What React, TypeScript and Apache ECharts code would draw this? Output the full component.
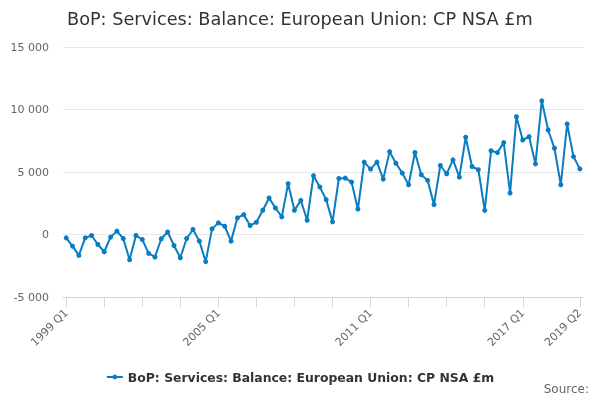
import React, { useEffect, useRef } from "react";
import * as echarts from "echarts";

const FONT = "DejaVu Sans";
const LINE_COLOR = "#0a7cc1";

// quarterly balance, 1999 Q1 .. 2019 Q2 (£m)
const balance = [
  -270, -930, -1670, -270, -80, -800, -1380, -210, 270, -320, -2020, -80, -400,
  -1510, -1800, -340, 200, -880, -1860, -320, 400, -530, -2170, 450, 930, 660,
  -530, 1330, 1590, 720, 980, 1940, 2920, 2120, 1410, 4060, 1940, 2730, 1140,
  4700, 3800, 2790, 1010, 4480, 4510, 4190, 2040, 5790, 5230, 5790, 4430, 6630,
  5700, 4910, 3980, 6560, 4780, 4330, 2390, 5520, 4860, 5970, 4590, 7780, 5440,
  5180, 1930, 6700, 6550, 7350, 3320, 9420, 7560, 7830, 5650, 10690, 8360, 6900,
  3980, 8840, 6230, 5250,
];

const startYear = 1999;
const quarters = ["Q1", "Q2", "Q3", "Q4"];
const categories: string[] = balance.map(
  (_, i) => `${startYear + Math.floor(i / 4)} ${quarters[i % 4]}`
);

const labelIndexes = [0, 24, 48, 72, 81];
const tickIndexes = [0, 6, 12, 18, 24, 30, 36, 42, 48, 54, 60, 66, 72, 81];
const yTicks = [-5000, 0, 5000, 10000, 15000];

const seriesName = "BoP: Services: Balance: European Union: CP NSA £m";

const fmt = (v: number) => {
  const s = Math.abs(v).toString().replace(/\B(?=(\d{3})+(?!\d))/g, " ");
  return v < 0 ? "-" + s : s;
};

const App = () => {
  const chartRef = useRef<HTMLDivElement>(null);

  useEffect(() => {
    const chart = echarts.init(chartRef.current as HTMLDivElement, undefined, {
      renderer: "svg",
    });

    chart.setOption({
      animation: false,
      textStyle: { fontFamily: FONT },
      title: {
        text: seriesName,
        left: 62,
        top: 5,
        textStyle: {
          fontFamily: FONT,
          fontSize: 17.7,
          fontWeight: "normal",
          color: "#333333",
        },
      },
      grid: { left: 63, top: 47, width: 520, height: 250 },
      xAxis: {
        type: "value",
        min: -0.5,
        max: 81.5,
        splitLine: { show: false },
        axisLine: {
          show: true,
          onZero: false,
          lineStyle: { color: "#ccd6eb", width: 1 },
        },
        axisTick: {
          show: true,
          customValues: tickIndexes,
          length: 10,
          lineStyle: { color: "#ccd6eb" },
        },
        axisLabel: {
          customValues: labelIndexes,
          formatter: (v: number) => categories[Math.round(v)] ?? "",
          rotate: 45,
          fontFamily: FONT,
          fontSize: 11,
          color: "#666666",
          margin: 14,
        },
      },
      yAxis: {
        type: "value",
        min: yTicks[0],
        max: yTicks[yTicks.length - 1],
        interval: 5000,
        axisLine: { show: false },
        axisTick: { show: false },
        splitLine: { lineStyle: { color: "#e6e6e6", width: 1 } },
        axisLabel: {
          formatter: fmt,
          fontFamily: FONT,
          fontSize: 11,
          color: "#666666",
          margin: 14,
        },
      },
      legend: {
        top: 366,
        left: "center",
        itemWidth: 16,
        itemHeight: 6,
        itemGap: 5,
        textStyle: {
          fontFamily: FONT,
          fontSize: 12.4,
          fontWeight: "bold",
          color: "#333333",
        },
        data: [seriesName],
      },
      graphic: [
        {
          type: "text",
          right: 11,
          top: 383,
          style: {
            text: "Source:",
            fontFamily: FONT,
            fontSize: 12,
            fill: "#666666",
          },
        },
      ],
      series: [
        {
          name: seriesName,
          type: "line",
          data: balance.map((v, i) => [i, v]),
          symbol: "circle",
          symbolSize: 5,
          lineStyle: { color: LINE_COLOR, width: 2 },
          itemStyle: { color: LINE_COLOR },
        },
      ],
    });

    return () => {
      chart.dispose();
    };
  }, []);

  return (
    <div
      ref={chartRef}
      style={{ position: "fixed", left: 0, top: 0, width: "600px", height: "400px" }}
    />
  );
};

export default App;
